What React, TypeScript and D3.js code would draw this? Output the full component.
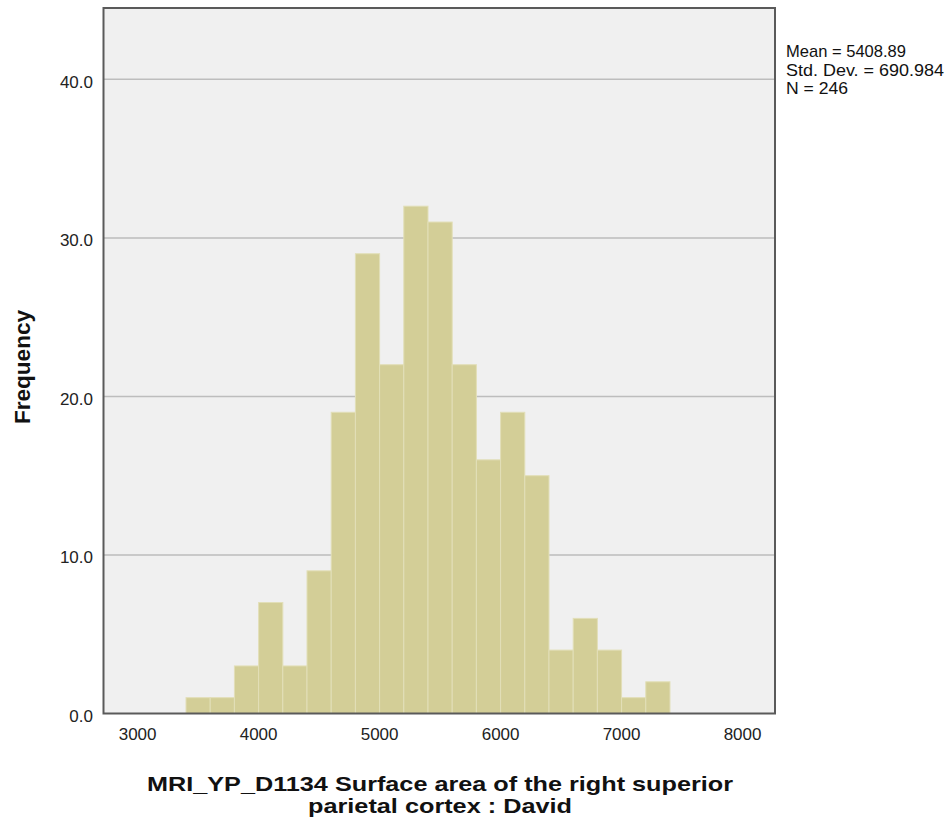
import React from "react";
import * as d3 from "d3";

const binStarts = [3400, 3600, 3800, 4000, 4200, 4400, 4600, 4800, 5000, 5200, 5400, 5600, 5800, 6000, 6200, 6400, 6600, 6800, 7000, 7200];
const counts = [1, 1, 3, 7, 3, 9, 19, 29, 22, 32, 31, 22, 16, 19, 15, 4, 6, 4, 1, 2];
const binWidth = 200;
const xTicks = [3000, 4000, 5000, 6000, 7000, 8000];
const yTicks = [0, 10, 20, 30, 40];
const statsLines = ["Mean = 5408.89", "Std. Dev. = 690.984", "N = 246"];
const xTitle = ["MRI_YP_D1134 Surface area of the right superior", "parietal cortex : David"];
const yTitle = "Frequency";

export default function App() {
  const left = 103.5, right = 775, top = 8, bottom = 713.5;
  const x = d3.scaleLinear().domain([2718, 8268]).range([left, right]);
  const y = d3.scaleLinear().domain([0, 44.5]).range([bottom, top]);
  const font = "'Liberation Sans', Arial, sans-serif";
  const titleLens = [586, 264];
  const statLens = [120, 158, 62];
  return (
    <svg width={951} height={825} style={{ position: "absolute", left: 0, top: 0 }}>
      <rect x={0} y={0} width={951} height={825} fill="#fff" />
      <rect x={left} y={top} width={right - left} height={bottom - top} fill="#F0F0F0" />
      {yTicks.filter(t => t > 0).map(t => (
        <line key={t} x1={left} x2={right} y1={y(t)} y2={y(t)} stroke="#BDBDBD" strokeWidth={1.5} />
      ))}
      {binStarts.map((b, i) => (
        <rect key={b} x={x(b)} y={y(counts[i])} width={x(b + binWidth) - x(b)} height={y(0) - y(counts[i])}
          fill="#D3CE97" stroke="#E2DFB8" strokeWidth={1} />
      ))}
      <rect x={left} y={top} width={right - left} height={bottom - top} fill="none" stroke="#5A5A5A" strokeWidth={2} />
      {yTicks.map(t => (
        <text key={t} x={93} y={y(t) + 8.5} textAnchor="end" fontFamily={font} fontSize={17} fill="#222">
          {t.toFixed(1)}
        </text>
      ))}
      {xTicks.map(t => (
        <text key={t} x={x(t)} y={740} textAnchor="middle" fontFamily={font} fontSize={17} fill="#222">{t}</text>
      ))}
      {statsLines.map((s, i) => (
        <text key={s} x={786} y={57 + i * 18.5} fontFamily={font} fontSize={17} fill="#111"
          textLength={statLens[i]} lengthAdjust="spacingAndGlyphs">{s}</text>
      ))}
      {xTitle.map((s, i) => (
        <text key={s} x={440} y={791 + i * 22} textAnchor="middle" fontFamily={font} fontSize={20.5} fontWeight="bold" fill="#111"
          textLength={titleLens[i]} lengthAdjust="spacingAndGlyphs">{s}</text>
      ))}
      <text transform={`translate(30,367) rotate(-90)`} textAnchor="middle" fontFamily={font} fontSize={22} fontWeight="bold" fill="#111"
        textLength={114} lengthAdjust="spacingAndGlyphs">{yTitle}</text>
    </svg>
  );
}
